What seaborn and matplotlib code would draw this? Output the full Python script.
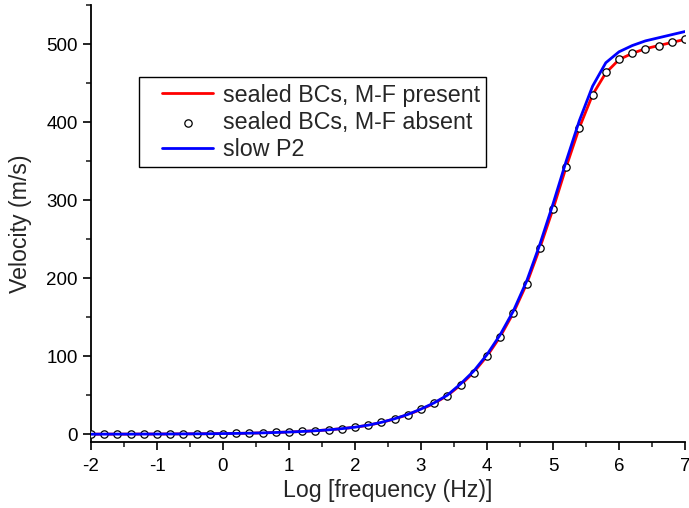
import matplotlib
matplotlib.use("Agg")
import matplotlib.pyplot as plt
import seaborn as sns
import pandas as pd
from matplotlib.ticker import MultipleLocator
from matplotlib.lines import Line2D
from matplotlib.collections import PathCollection
from matplotlib.legend_handler import HandlerLine2D, HandlerPathCollection

sns.set_style("ticks")
plt.rcParams["font.family"] = ["Liberation Sans", "DejaVu Sans"]
plt.rcParams["axes.unicode_minus"] = False

# log10 frequency grid
log_freq = [-2.0, -1.8, -1.6, -1.4, -1.2, -1.0, -0.8, -0.6, -0.4, -0.2,
            0.0, 0.2, 0.4, 0.6, 0.8, 1.0, 1.2, 1.4, 1.6, 1.8,
            2.0, 2.2, 2.4, 2.6, 2.8, 3.0, 3.2, 3.4, 3.6, 3.8,
            4.0, 4.2, 4.4, 4.6, 4.8, 5.0, 5.2, 5.4, 5.6, 5.8,
            6.0, 6.2, 6.4, 6.6, 6.8, 7.0]

# sealed BCs, M-F absent (markers)
vel_absent = [0.0, 0.1, 0.1, 0.1, 0.2, 0.2, 0.3, 0.4, 0.5, 0.6,
              0.8, 1.0, 1.3, 1.7, 2.2, 2.8, 3.5, 4.4, 5.6, 7.1,
              8.9, 11.5, 15.0, 19.6, 25.0, 31.7, 39.5, 49.0, 63.0, 79.0,
              100.0, 125.0, 155.0, 192.0, 238.0, 288.0, 342.0, 393.0, 435.0, 464.0,
              481.0, 489.0, 494.0, 498.0, 502.0, 506.0]

# sealed BCs, M-F present (red line)
vel_present = [0.0, 0.1, 0.1, 0.1, 0.2, 0.2, 0.3, 0.4, 0.5, 0.6,
               0.8, 1.0, 1.3, 1.7, 2.2, 2.8, 3.5, 4.4, 5.6, 7.1,
               8.9, 11.5, 15.0, 19.6, 25.0, 31.7, 39.5, 49.5, 63.0, 79.5,
               100.0, 125.0, 155.5, 192.5, 238.5, 288.5, 342.5, 393.0, 435.0, 463.0,
               480.0, 488.0, 494.0, 498.0, 502.0, 506.0]

# slow P2 (blue line)
vel_p2 = [0.0, 0.1, 0.1, 0.1, 0.2, 0.2, 0.3, 0.4, 0.5, 0.6,
          0.8, 1.0, 1.3, 1.7, 2.2, 2.8, 3.5, 4.4, 5.6, 7.1,
          9.0, 11.6, 15.2, 19.8, 25.3, 32.2, 40.2, 50.0, 64.5, 81.0,
          102.0, 127.5, 158.0, 196.0, 243.0, 295.0, 350.0, 402.0, 446.0, 476.0,
          490.0, 498.0, 504.0, 508.0, 512.0, 516.0]

df = pd.DataFrame({"x": log_freq, "absent": vel_absent,
                   "present": vel_present, "p2": vel_p2})

fig = plt.figure(figsize=(6.89, 5.08), dpi=100)
ax = fig.add_axes([91 / 689, 66 / 508, 594 / 689, 437 / 508])

sns.lineplot(data=df, x="x", y="present", color="#ff0000", lw=2.0,
             label="sealed BCs, M-F present", ax=ax)
sns.scatterplot(data=df, x="x", y="absent", marker="o", s=28,
                facecolor="white", edgecolor="black", linewidth=0.9,
                label="sealed BCs, M-F absent", ax=ax, zorder=3)
sns.lineplot(data=df, x="x", y="p2", color="#0000ff", lw=2.0,
             label="slow P2", ax=ax, zorder=4)

ax.set_xlim(-2, 7)
ax.set_ylim(-10, 550)
ax.xaxis.set_major_locator(MultipleLocator(1))
ax.xaxis.set_minor_locator(MultipleLocator(0.5))
ax.yaxis.set_major_locator(MultipleLocator(100))
ax.yaxis.set_minor_locator(MultipleLocator(50))
ax.tick_params(which="major", direction="out", length=6, width=1.2,
               labelsize=13.5, colors="black")
ax.tick_params(axis="x", which="major", pad=5.5)
ax.tick_params(which="minor", direction="out", length=3.8, width=1.2)
sns.despine(ax=ax)
for s in ["left", "bottom"]:
    ax.spines[s].set_linewidth(1.3)
    ax.spines[s].set_color("black")

ax.set_xlabel("Log [frequency (Hz)]", fontsize=16.7, labelpad=3)
ax.set_ylabel("Velocity (m/s)", fontsize=16.7, labelpad=10)

# shift legend handles right a bit, like the original box
hmap = {Line2D: HandlerLine2D(xpad=0.72),
        PathCollection: HandlerPathCollection(xpad=0.72)}
leg = ax.legend(loc="upper left", bbox_to_anchor=(139 / 689, 1 - 77 / 508),
                bbox_transform=fig.transFigure, fontsize=16.75,
                frameon=True, fancybox=False, framealpha=1,
                edgecolor="black", borderpad=0.28, labelspacing=0.18,
                handlelength=2.92, handletextpad=0.4, borderaxespad=0,
                handler_map=hmap)
leg.get_frame().set_linewidth(1.0)

fig.savefig("out.png", dpi=100)
